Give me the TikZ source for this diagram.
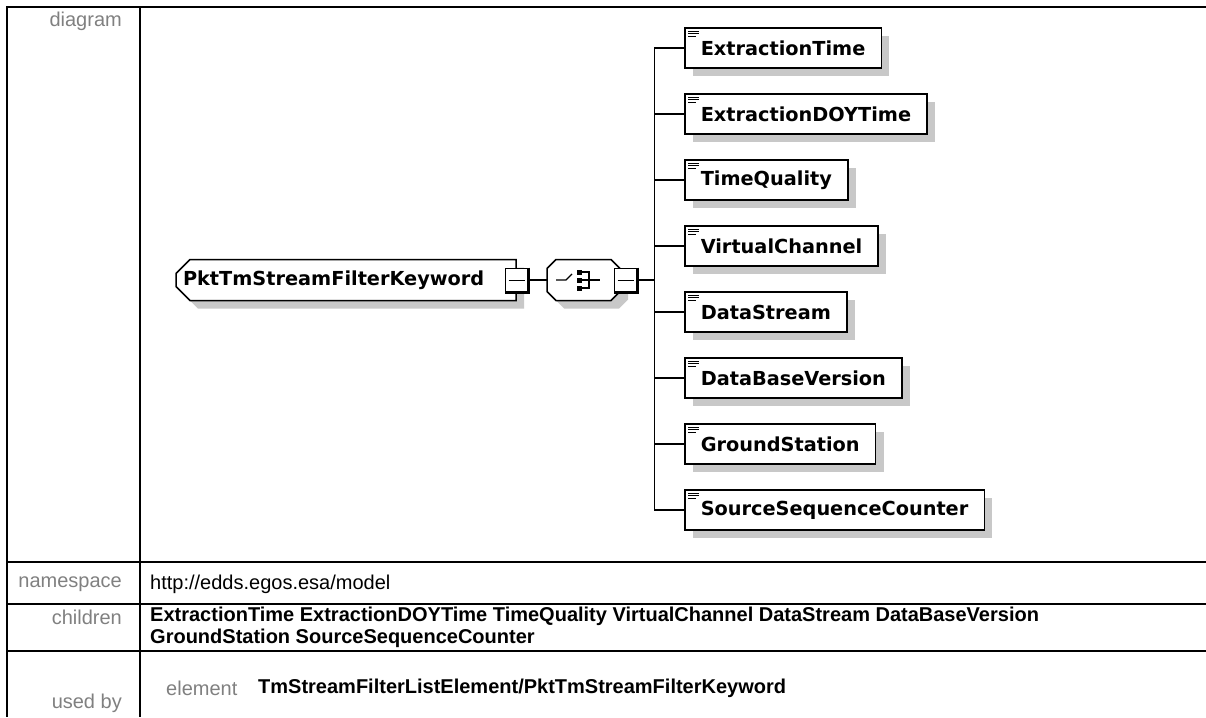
\documentclass[tikz,border=0pt]{standalone}
\usepackage{fontspec}
\setmainfont{Liberation Sans}
\newfontfamily\xsdfont{DejaVu Sans}
\usepackage{tikz}
\usetikzlibrary{shapes.misc, shadows, positioning, calc}
\definecolor{XsdGray}{RGB}{128,128,128}
\definecolor{XsdShadow}{RGB}{200,200,200}

\begin{document}
\begin{tikzpicture}[x=1pt, y=-1pt, font=\fontsize{20}{22}\selectfont,
	xsdshadow/.style={drop shadow={shadow xshift=8pt, shadow yshift=-8pt, fill=XsdShadow, opacity=1}},
	xsdtext/.style={font=\xsdfont\bfseries\fontsize{19.3}{21}\selectfont},
	xsdelem/.style={rectangle, draw, line width=1.5pt, fill=white, minimum height=40pt,
		inner xsep=16pt, inner ysep=0pt, xsdtext, xsdshadow},
	xsdminus/.style={rectangle, draw, line width=1pt, fill=white, minimum width=23pt,
		minimum height=24pt, inner sep=0pt},
	rowlabel/.style={anchor=east, text=XsdGray, inner sep=2pt},
	rowvalue/.style={anchor=west, align=left, inner sep=2pt},
	boldvalue/.style={rowvalue, font=\fontsize{20}{21.5}\selectfont\bfseries}]
	\useasboundingbox (0,0) rectangle (1206,717);
	% tabla
	\draw[line width=2pt] (1206,7) -- (7,7) -- (7,717);
	\draw[line width=2pt] (140,7) -- (140,717);
	\foreach \y in {562, 604, 651}
		\draw[line width=2pt] (7,\y) -- (1206,\y);
	\node[rowlabel] (diagramLabel) at (124,21) {diagram};
	\node[rowlabel] (namespaceLabel) at (124,584) {namespace};
	\node[rowlabel] (childrenLabel) at (124,617) {children};
	\node[rowlabel] (usedbyLabel) at (124,703) {used by};
	\node[rowvalue] (namespaceValue) at (148,584) {http://edds.egos.esa/model};
	\node[boldvalue] (childrenValue) at (148,627.5)
		{ExtractionTime ExtractionDOYTime TimeQuality VirtualChannel DataStream DataBaseVersion\\
		GroundStation SourceSequenceCounter};
	\node[rowvalue, text=XsdGray] (elementKind) at (164,688) {element};
	\node[boldvalue] (elementPath) at (256,688)
		{TmStreamFilterListElement/PktTmStreamFilterKeyword};
	% elemento principal
	\node[chamfered rectangle, chamfered rectangle corners={north west, south west},
		chamfered rectangle xsep=7pt, chamfered rectangle ysep=7pt, draw, line width=1.5pt,
		fill=white, xsdshadow, minimum height=41pt, text width=326pt, inner xsep=0pt,
		inner ysep=0pt, align=left, xsdtext]
		(keyword) at (346,280) {PktTmStreamFilterKeyword};
	\node[xsdminus] (keywordMinus) at (516.5,280) {};
	\draw[line width=2.5pt] (keywordMinus.north east) -- (keywordMinus.south east) -- (keywordMinus.south west);
	\draw[line width=1pt] ([xshift=4pt]keywordMinus.west) -- ([xshift=-4pt]keywordMinus.east);
	% secuencia
	\node[minimum width=73pt, minimum height=41pt, inner sep=0pt] (seq) at (583.5,280) {};
	\begin{scope}[shift={(seq.center)}]
		\fill[XsdShadow] (-19.5,-12.5) -- (35.5,-12.5) -- (44.5,-3.5) -- (44.5,19.5)
			-- (35.5,28.5) -- (-19.5,28.5) -- (-28.5,19.5) -- (-28.5,-3.5) -- cycle;
		\draw[line width=1.5pt, fill=white] (-27.5,-20.5) -- (27.5,-20.5) -- (36.5,-11.5) -- (36.5,11.5)
			-- (27.5,20.5) -- (-27.5,20.5) -- (-36.5,11.5) -- (-36.5,-11.5) -- cycle;
		\begin{scope}[line width=1.2pt]
			\draw (-27.5,0) -- (-17.5,0) -- (-11.5,-6);
			\foreach \dy in {-8, 0, 8}
				\fill (-6.5,\dy-2.5) rectangle (-1.5,\dy+2.5);
			\draw (-1.5,-8) -- (5.5,-8) -- (5.5,8) -- (-1.5,8);
			\draw (-1.5,0) -- (16.5,0);
		\end{scope}
	\end{scope}
	\draw[line width=1.5pt] (keywordMinus.east) -- (seq.west);
	\node[xsdminus] (seqMinus) at (625.5,280) {};
	\draw[line width=2.5pt] (seqMinus.north east) -- (seqMinus.south east) -- (seqMinus.south west);
	\draw[line width=1pt] ([xshift=4pt]seqMinus.west) -- ([xshift=-4pt]seqMinus.east);
	% hijos
	\foreach \lbl [count=\i] in {ExtractionTime, ExtractionDOYTime, TimeQuality, VirtualChannel,
		DataStream, DataBaseVersion, GroundStation, SourceSequenceCounter} {
		\node[xsdelem, anchor=west] (child\i) at (684,{48+66*(\i-1)}) {\lbl};
		\draw[line width=1.5pt] (seqMinus.east) -- ++(17,0) |- (child\i.west);
		\foreach \dy/\len in {4/11, 6.5/11, 9/8}
			\draw[line width=1pt] ([shift={(4pt,-\dy pt)}]child\i.north west) -- ++(\len,0);
	}
\end{tikzpicture}
\end{document}
